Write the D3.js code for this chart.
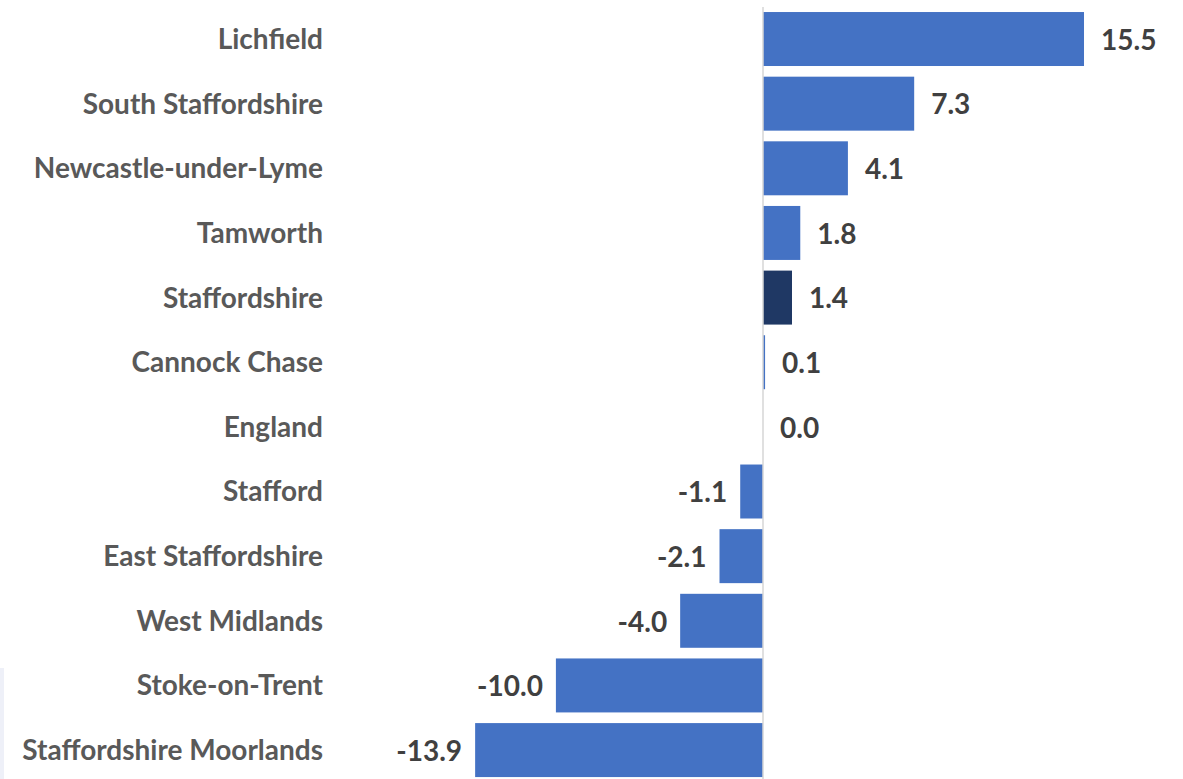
<!DOCTYPE html>
<html><head><meta charset="utf-8">
<script src="https://cdn.jsdelivr.net/npm/d3@7"></script>
<style>body{margin:0;background:#fff}svg{display:block}</style>
</head><body><svg id="c" width="1183" height="779"></svg>
<script>
const categories = ["Lichfield","South Staffordshire","Newcastle-under-Lyme","Tamworth","Staffordshire","Cannock Chase","England","Stafford","East Staffordshire","West Midlands","Stoke-on-Trent","Staffordshire Moorlands"];
const values = [15.5,7.3,4.1,1.8,1.4,0.1,0.0,-1.1,-2.1,-4.0,-10.0,-13.9];
const highlight = ["Staffordshire"];

const svg = d3.select("#c");
const FONT = "Lato,'Open Sans',sans-serif";
const FS = 28;
const x = d3.scaleLinear().domain([-14,16]).range([473.06,1094.36]);
const y = d3.scaleBand().domain(categories).range([6.7,782.4]).paddingInner(0.165).paddingOuter(0.0825);

// faint edge shading seen at the bottom-left of the reference
svg.append("rect").attr("x",0).attr("y",668).attr("width",4).attr("height",111).attr("fill","#EEF0F8");

svg.selectAll("rect.bar").data(categories).enter().append("rect")
  .attr("class","bar")
  .attr("x",(d,i)=>x(Math.min(0,values[i])))
  .attr("width",(d,i)=>Math.abs(x(values[i])-x(0)))
  .attr("y",d=>y(d)).attr("height",y.bandwidth())
  .attr("fill",d=>highlight.includes(d)?"#1F3864":"#4472C4");

svg.append("line").attr("x1",x(0)).attr("x2",x(0)).attr("y1",7).attr("y2",779)
  .attr("stroke","#D6D6D6").attr("stroke-width",1.5);

const yAxis = d3.axisLeft(y).tickSize(0).tickPadding(0);
const ga = svg.append("g").attr("transform","translate(323,1)").call(yAxis);
ga.select(".domain").remove();
ga.selectAll("text").attr("font-family",FONT).attr("font-size",FS).attr("font-weight","bold").attr("fill","#595959");

svg.selectAll("text.val").data(categories).enter().append("text")
  .attr("class","val")
  .attr("x",(d,i)=>values[i]<0 ? x(values[i])-13 : x(values[i])+17)
  .attr("y",d=>y(d)+y.bandwidth()/2+1)
  .attr("dy","0.35em")
  .attr("text-anchor",(d,i)=>values[i]<0?"end":"start")
  .attr("font-family",FONT).attr("font-size",FS).attr("font-weight","bold").attr("fill","#404040")
  .text((d,i)=>values[i].toFixed(1));
</script></body></html>
